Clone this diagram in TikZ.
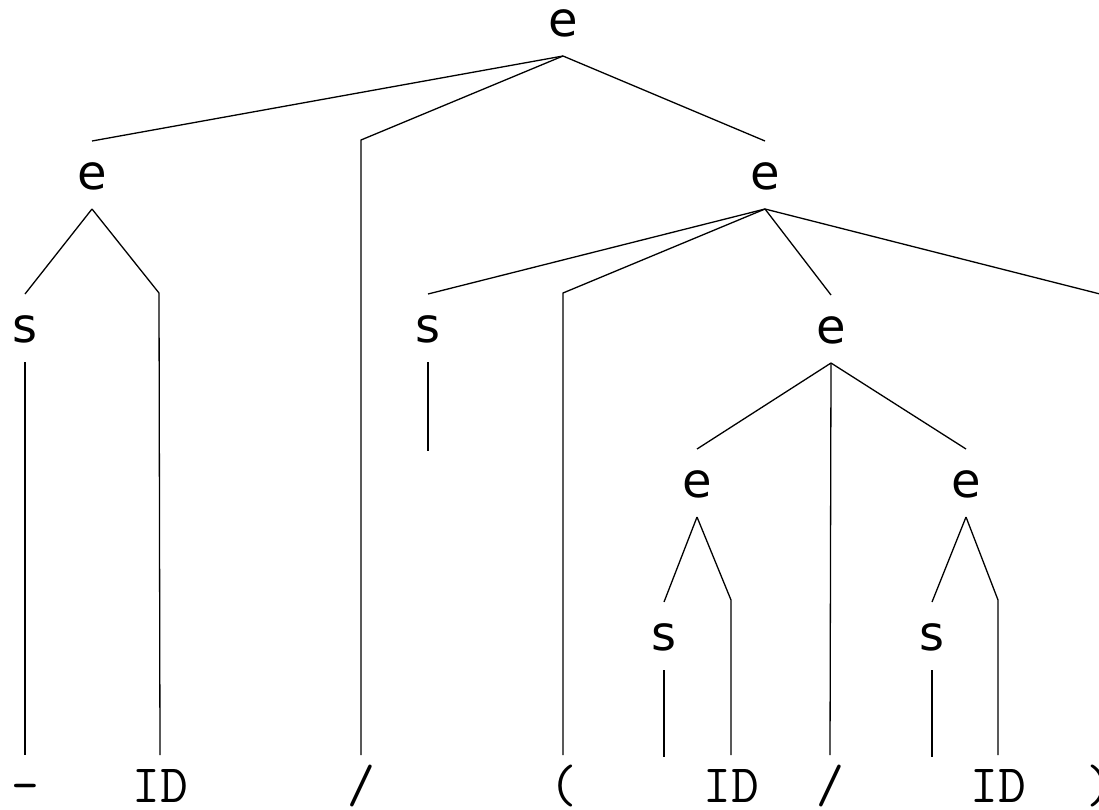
\documentclass[tikz,border=0pt]{standalone}
\usepackage{fontspec}
\newfontfamily\ntfont{DejaVu Sans}
\newfontfamily\tmfont{Latin Modern Mono}
\begin{document}
\begin{tikzpicture}[x=1pt,y=-1pt,line width=1.3pt,
  nt/.style={font=\ntfont\fontsize{48}{58}\selectfont,inner sep=0pt,outer sep=0pt,text height=48pt,text depth=20pt},
  tm/.style={font=\tmfont\fontsize{54}{60}\selectfont,inner sep=0pt,outer sep=0pt,text height=47pt,text depth=0pt,anchor=base}]
\useasboundingbox (0,0) rectangle (1099,809);
% nonterminals
\node[nt] (r)  at (563,22)  {e};
\node[nt] (eL) at (92,175)  {e};
\node[nt] (eR) at (765,175) {e};
\node[nt] (s1) at (25,328)  {s};
\node[nt] (s2) at (428,328) {s};
\node[nt] (eM) at (831,329) {e};
\node[nt] (eA) at (697,483) {e};
\node[nt] (eB) at (966,483) {e};
\node[nt] (s3) at (664,636) {s};
\node[nt] (s4) at (932,636) {s};
% terminals
\node[tm] (t1) at (25,802)   {-};
\node[tm] (t2) at (160,802)  {ID};
\node[tm] (t3) at (361,802)  {/};
\node[tm] (t4) at (563,802)  {(};
\node[tm] (t5) at (731,802)  {ID};
\node[tm] (t6) at (830,802)  {/};
\node[tm] (t7) at (998,802)  {ID};
\node[tm] (t8) at (1100,802) {)};
% bend points and free ends
\coordinate (b1) at (361,140);
\coordinate (b2) at (159,293);
\coordinate (b3) at (563,293);
\coordinate (b4) at (1100,294);
\coordinate (b5) at (731,600);
\coordinate (b6) at (998,600);
\coordinate (x2) at (428,451);
\coordinate (x3) at (664,757);
\coordinate (x4) at (932,757);
% edges
\draw (r.south) -- (eL.north);
\draw (r.south) -- (b1) -- (t3.north);
\draw (r.south) -- (eR.north);
\draw (eL.south) -- (s1.north);
\draw (eL.south) -- (b2) -- (t2.north);
\draw (s1.south) -- (t1.north);
\draw (eR.south) -- (s2.north);
\draw (eR.south) -- (b3) -- (t4.north);
\draw (eR.south) -- (eM.north);
\draw (eR.south) -- (b4) -- (t8.north);
\draw (s2.south) -- (x2);
\draw (eM.south) -- (eA.north);
\draw (eM.south) -- (t6.north);
\draw (eM.south) -- (eB.north);
\draw (eA.south) -- (s3.north);
\draw (eA.south) -- (b5) -- (t5.north);
\draw (eB.south) -- (s4.north);
\draw (eB.south) -- (b6) -- (t7.north);
\draw (s3.south) -- (x3);
\draw (s4.south) -- (x4);
\end{tikzpicture}
\end{document}
